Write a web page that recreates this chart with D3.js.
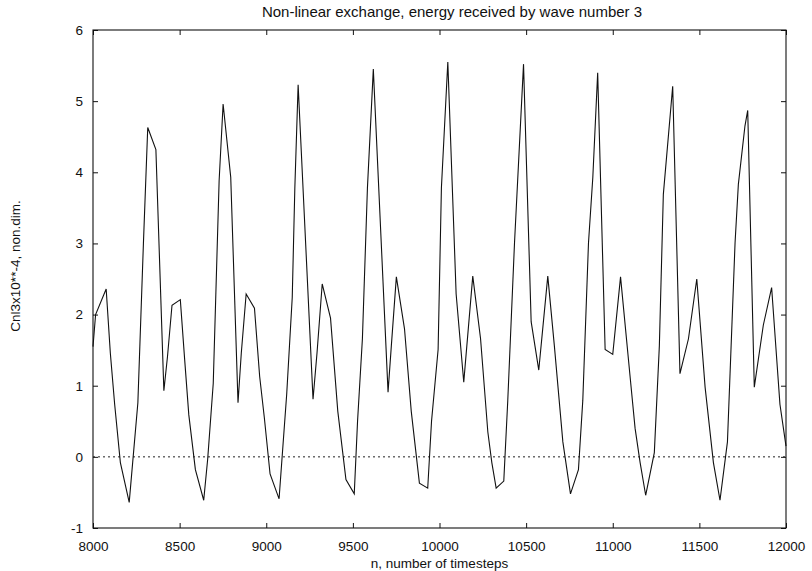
<!DOCTYPE html>
<html>
<head>
<meta charset="utf-8">
<script src="https://cdn.jsdelivr.net/npm/d3@7/dist/d3.min.js"></script>
<style>
  html, body { margin: 0; padding: 0; background: #fff; }
  svg { display: block; }
  text { font-family: "Liberation Sans", Arial, Helvetica, sans-serif; fill: #111; }
</style>
</head>
<body>
<svg id="chart" width="812" height="571"></svg>
<script>
const titleText = "Non-linear exchange, energy received by wave number 3";
const xLabel = "n, number of timesteps";
const yLabel = "Cnl3x10**-4, non.dim.";

const xTicks = [8000, 8500, 9000, 9500, 10000, 10500, 11000, 11500, 12000];
const yTicks = [-1, 0, 1, 2, 3, 4, 5, 6];

const timesteps = [
  8000, 8015, 8076, 8100, 8125, 8158, 8209, 8259, 8291, 8316,
  8363, 8409, 8430, 8456, 8504, 8529, 8553, 8591, 8639, 8662,
  8694, 8728, 8751, 8795, 8837, 8856, 8884, 8932, 8962, 8989,
  9022, 9074, 9118, 9150, 9165, 9184, 9270, 9293, 9323, 9371,
  9413, 9460, 9508, 9527, 9555, 9584, 9618, 9703, 9722, 9751,
  9798, 9837, 9884, 9932, 9954, 9992, 10011, 10048, 10096, 10140,
  10192, 10237, 10279, 10302, 10327, 10371, 10394, 10433, 10485, 10529,
  10573, 10625, 10663, 10712, 10756, 10802, 10827, 10860, 10885, 10913,
  10956, 11000, 11045, 11100, 11129, 11158, 11190, 11240, 11269, 11292,
  11346, 11388, 11437, 11485, 11533, 11581, 11619, 11662, 11706, 11725,
  11763, 11779, 11817, 11869, 11917, 11965, 12000
];
const energy = [
  1.55, 2.00, 2.36, 1.46, 0.74, -0.08, -0.64, 0.76, 3.00, 4.63,
  4.32, 0.93, 1.41, 2.13, 2.21, 1.37, 0.59, -0.18, -0.61, -0.03,
  1.03, 3.88, 4.96, 3.93, 0.76, 1.46, 2.29, 2.09, 1.13, 0.55,
  -0.24, -0.59, 0.88, 2.24, 3.78, 5.23, 0.81, 1.46, 2.43, 1.95,
  0.64, -0.32, -0.52, 0.50, 1.66, 3.78, 5.45, 0.91, 1.56, 2.53,
  1.80, 0.64, -0.37, -0.44, 0.50, 1.51, 3.78, 5.55, 2.29, 1.05,
  2.54, 1.66, 0.35, -0.08, -0.44, -0.34, 0.79, 3.01, 5.52, 1.90,
  1.22, 2.54, 1.56, 0.21, -0.52, -0.18, 0.79, 3.01, 3.93, 5.40,
  1.51, 1.44, 2.53, 1.13, 0.40, -0.08, -0.54, 0.06, 1.56, 3.69,
  5.21, 1.17, 1.66, 2.50, 0.98, -0.08, -0.61, 0.21, 3.01, 3.83,
  4.65, 4.87, 0.98, 1.85, 2.38, 0.74, 0.15
];
const zeroLine = [0];

const margin = { left: 93, right: 26, top: 30, bottom: 43 };
const W = 812, H = 571;
const iw = W - margin.left - margin.right;
const ih = H - margin.top - margin.bottom;

const svg = d3.select("#chart");
const g = svg.append("g").attr("transform", `translate(${margin.left},${margin.top})`);

const xScale = d3.scaleLinear().domain([8000, 12000]).range([0, iw]);
const yScale = d3.scaleLinear().domain([-1, 6]).range([ih, 0]);

const tickLen = 5;
const fs = 13.5;
const plain = d => String(d);

const axBottom = g.append("g").attr("transform", `translate(0,${ih})`)
  .call(d3.axisBottom(xScale).tickValues(xTicks).tickFormat(plain).tickSizeInner(-tickLen).tickSizeOuter(0).tickPadding(13));
const axTop = g.append("g")
  .call(d3.axisTop(xScale).tickValues(xTicks).tickFormat("").tickSizeInner(-tickLen).tickSizeOuter(0));
const axLeft = g.append("g")
  .call(d3.axisLeft(yScale).tickValues(yTicks).tickFormat(plain).tickSizeInner(-tickLen).tickSizeOuter(0).tickPadding(10));
const axRight = g.append("g").attr("transform", `translate(${iw},0)`)
  .call(d3.axisRight(yScale).tickValues(yTicks).tickFormat("").tickSizeInner(-tickLen).tickSizeOuter(0));

[axBottom, axTop, axLeft, axRight].forEach(a => {
  a.select(".domain").remove();
  a.selectAll("line").attr("stroke", "#111").attr("stroke-width", 1);
  a.selectAll("text").attr("font-size", fs).attr("fill", "#111")
    .style("font-family", '"Liberation Sans", Arial, sans-serif');
});

g.append("rect").attr("x", 0).attr("y", 0).attr("width", iw).attr("height", ih)
  .attr("fill", "none").attr("stroke", "#111").attr("stroke-width", 1.1);

g.selectAll(".zero").data(zeroLine).enter().append("line")
  .attr("class", "zero")
  .attr("x1", xScale(8000)).attr("x2", xScale(12000))
  .attr("y1", d => yScale(d)).attr("y2", d => yScale(d))
  .attr("stroke", "#222").attr("stroke-width", 1).attr("stroke-dasharray", "2,3");

const pts = timesteps.map((t, i) => [t, energy[i]]);
g.append("path").datum(pts)
  .attr("fill", "none").attr("stroke", "#111").attr("stroke-width", 1.1)
  .attr("stroke-linejoin", "miter")
  .attr("d", d3.line().x(d => xScale(d[0])).y(d => yScale(d[1])));

svg.append("text").attr("x", 452).attr("y", 17)
  .attr("text-anchor", "middle").attr("font-size", 15).text(titleText);

svg.append("text").attr("x", margin.left + iw / 2).attr("y", 568)
  .attr("text-anchor", "middle").attr("font-size", 13.5).text(xLabel);

svg.append("text").attr("transform", `translate(20,266) rotate(-90)`)
  .attr("text-anchor", "middle").attr("font-size", 13.5).text(yLabel);
</script>
</body>
</html>
